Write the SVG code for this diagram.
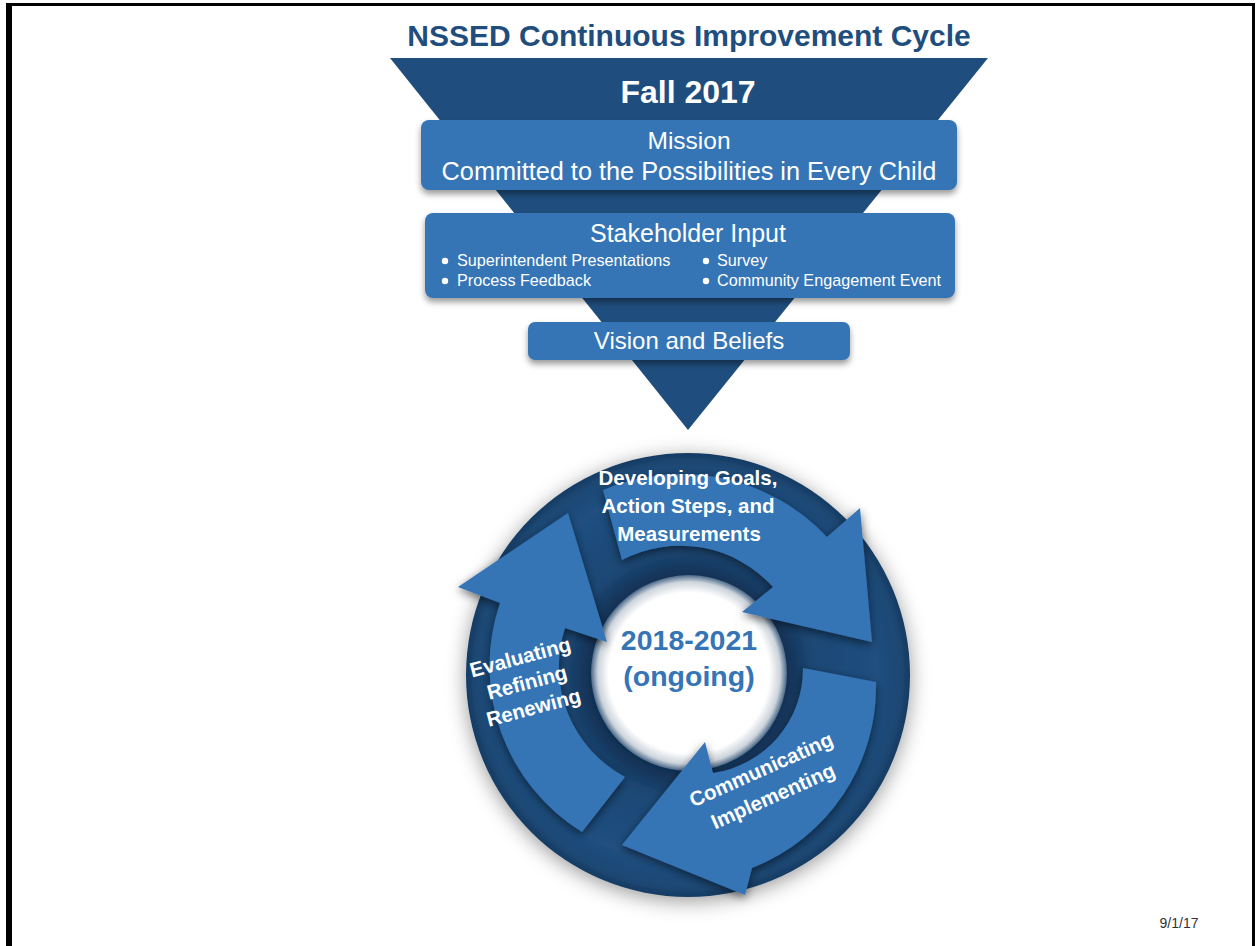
<svg xmlns="http://www.w3.org/2000/svg" width="1256" height="946" viewBox="0 0 1256 946">
  <defs>
    <style>
      .box { fill: #3574b6; filter: url(#boxShadow); }
      .boxText { font-family: "Liberation Sans", Arial, sans-serif; fill: #ffffff; text-anchor: middle; }
      .bullet { font-family: "Liberation Sans", Arial, sans-serif; fill: #ffffff; font-size: 16.2px; }
      .arrow { fill: #3574b6; filter: url(#arrowShadow); }
      .cycleText { font-family: "Liberation Sans", Arial, sans-serif; font-weight: bold; fill: #ffffff; text-anchor: middle; font-size: 20.5px; }
      .centerText { font-family: "Liberation Sans", Arial, sans-serif; font-weight: bold; fill: #3574b6; text-anchor: middle; font-size: 28.5px; }
    </style>
    <filter id="boxShadow" x="-10%" y="-30%" width="120%" height="170%">
      <feDropShadow dx="0" dy="4" stdDeviation="3" flood-color="#000" flood-opacity="0.4"/>
    </filter>
    <filter id="arrowShadow" x="-20%" y="-20%" width="140%" height="140%">
      <feDropShadow dx="0" dy="3" stdDeviation="5" flood-color="#000" flood-opacity="0.55"/>
    </filter>
    <filter id="ringShadow" x="-20%" y="-20%" width="140%" height="140%">
      <feDropShadow dx="0" dy="4" stdDeviation="10" flood-color="#000" flood-opacity="0.4"/>
    </filter>
    <radialGradient id="ringGrad" cx="688" cy="675" r="222" gradientUnits="userSpaceOnUse">
      <stop offset="0.42" stop-color="#0f2c4d"/>
      <stop offset="0.56" stop-color="#1c4774"/>
      <stop offset="0.85" stop-color="#204f80"/>
      <stop offset="0.96" stop-color="#1c4773"/>
      <stop offset="1" stop-color="#163b62"/>
    </radialGradient>
    <radialGradient id="holeGrad" cx="689" cy="673" r="98" gradientUnits="userSpaceOnUse">
      <stop offset="0" stop-color="#ffffff"/>
      <stop offset="0.82" stop-color="#ffffff"/>
      <stop offset="0.93" stop-color="#cdd4dc"/>
      <stop offset="1" stop-color="#4a6888"/>
    </radialGradient>
  </defs>

  <rect x="0" y="0" width="1256" height="946" fill="#ffffff"/>

  <g id="frame">
    <rect x="6" y="3" width="1249" height="3" fill="#000000"/>
    <rect x="6" y="3" width="6" height="943" fill="#000000"/>
    <rect x="1252" y="3" width="3" height="943" fill="#000000"/>
  </g>

  <g id="title">
    <text x="689" y="46" font-family="'Liberation Sans', Arial, sans-serif" font-weight="bold" font-size="30" fill="#1f4e7e" text-anchor="middle">NSSED Continuous Improvement Cycle</text>
  </g>

  <g id="connectors">
    <polygon id="funnel" points="390,58 988,58 688,430" fill="#1f4e7e"/>
  </g>

  <g id="fall-2017">
    <text x="688" y="103" class="boxText" font-weight="bold" font-size="32">Fall 2017</text>
  </g>

  <g id="mission">
    <rect x="421" y="120" width="536" height="70" rx="8" class="box"/>
    <text x="689" y="149" class="boxText" font-size="24.5">Mission</text>
    <text x="689" y="180" class="boxText" font-size="25.3">Committed to the Possibilities in Every Child</text>
  </g>

  <g id="stakeholder-input">
    <rect x="425" y="213" width="530" height="85" rx="8" class="box"/>
    <text x="688" y="242" class="boxText" font-size="25">Stakeholder Input</text>
    <circle cx="445" cy="261" r="3.2" fill="#ffffff"/>
    <circle cx="445" cy="281" r="3.2" fill="#ffffff"/>
    <circle cx="706" cy="261" r="3.2" fill="#ffffff"/>
    <circle cx="706" cy="281" r="3.2" fill="#ffffff"/>
    <text x="457" y="266" class="bullet">Superintendent Presentations</text>
    <text x="457" y="286" class="bullet">Process Feedback</text>
    <text x="717" y="266" class="bullet">Survey</text>
    <text x="717" y="286" class="bullet">Community Engagement Event</text>
  </g>

  <g id="vision-beliefs">
    <rect x="528" y="322" width="322" height="38" rx="7" class="box"/>
    <text x="689" y="349" class="boxText" font-size="24">Vision and Beliefs</text>
  </g>

  <g id="cycle-ring">
    <circle cx="688" cy="675" r="222" fill="url(#ringGrad)" filter="url(#ringShadow)"/>
    <circle cx="689" cy="673" r="98" fill="url(#holeGrad)"/>
  </g>

  <g id="arrow-developing">
    <path class="arrow" d="M 603,490 A 200 200 0 0 1 827,537 L 860,508 L 872,642 L 742,612 L 773,587 A 125 125 0 0 0 622,560 Z"/>
    <text class="cycleText" x="688" y="485">Developing Goals,</text>
    <text class="cycleText" x="688" y="513">Action Steps, and</text>
    <text class="cycleText" x="689" y="541">Measurements</text>
  </g>

  <g id="arrow-communicating">
    <path class="arrow" d="M 803,668 L 876,682 A 195 195 0 0 1 752,868 L 745,895 L 622,845 L 705,742 L 713,773 A 105 105 0 0 0 803,668 Z"/>
    <g transform="translate(764,776) rotate(-24)">
      <text class="cycleText" x="0" y="0" font-size="21">Communicating</text>
      <text class="cycleText" x="0" y="29" font-size="21">Implementing</text>
    </g>
  </g>

  <g id="arrow-evaluating">
    <path class="arrow" d="M 625,777 L 582,832 A 195 195 0 0 1 500,603 L 458,587 L 568,513 L 607,642 L 565,628 A 125 125 0 0 0 625,777 Z"/>
    <g transform="translate(522,664) rotate(-15)">
      <text class="cycleText" x="0" y="0">Evaluating</text>
      <text class="cycleText" x="0" y="26">Refining</text>
      <text class="cycleText" x="0" y="52">Renewing</text>
    </g>
  </g>

  <g id="center-label">
    <text class="centerText" x="689" y="650">2018-2021</text>
    <text class="centerText" x="689" y="686" font-size="28">(ongoing)</text>
  </g>

  <g id="date">
    <text x="1179" y="928" font-family="'Liberation Sans', Arial, sans-serif" font-size="14" fill="#333333" text-anchor="middle">9/1/17</text>
  </g>
</svg>
